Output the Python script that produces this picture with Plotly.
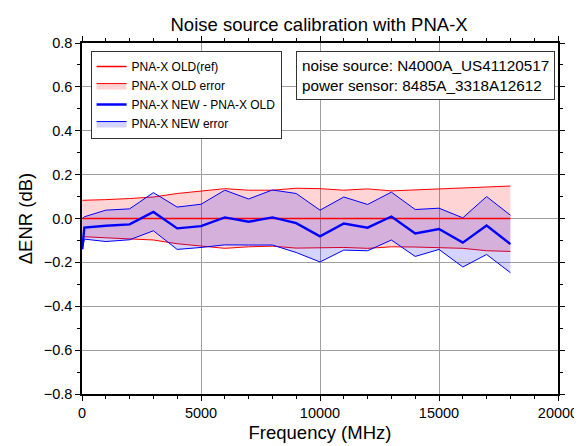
import plotly.graph_objects as go

freq = [10, 100, 1000, 2000, 3000, 4000, 5000, 6000, 7000, 8000, 9000,
        10000, 11000, 12000, 13000, 14000, 15000, 16000, 17000, 18000]

old_ref = [0.0] * 20
old_upper = [0.083, 0.083, 0.086, 0.091, 0.098, 0.114, 0.126, 0.136, 0.129, 0.129, 0.138,
             0.136, 0.129, 0.135, 0.126, 0.130, 0.135, 0.138, 0.145, 0.148]
old_lower = [-0.083, -0.083, -0.088, -0.092, -0.098, -0.115, -0.127, -0.136, -0.129, -0.126, -0.135,
             -0.135, -0.132, -0.136, -0.129, -0.130, -0.133, -0.136, -0.147, -0.150]

new_mean = [-0.140, -0.041, -0.033, -0.027, 0.030, -0.045, -0.035, 0.005, -0.015, 0.005, -0.021,
            -0.081, -0.023, -0.042, 0.009, -0.068, -0.048, -0.110, -0.032, -0.117]
new_upper = [0.000, 0.008, 0.038, 0.044, 0.118, 0.052, 0.065, 0.129, 0.089, 0.130, 0.114,
             0.038, 0.098, 0.064, 0.120, 0.041, 0.047, 0.003, 0.100, 0.015]
new_lower = [-0.140, -0.094, -0.105, -0.097, -0.056, -0.141, -0.132, -0.120, -0.121, -0.121, -0.155,
             -0.198, -0.144, -0.147, -0.098, -0.173, -0.141, -0.221, -0.164, -0.247]

legend_names = ["PNA-X OLD(ref)", "PNA-X OLD error", "PNA-X NEW - PNA-X OLD", "PNA-X NEW error"]

FONT = "Liberation Sans, Arial, sans-serif"
RED_FILL = "rgba(255,0,0,0.17)"
BLUE_FILL = "rgba(0,0,255,0.17)"

fig = go.Figure()

# OLD error band
fig.add_trace(go.Scatter(x=freq, y=old_lower, mode="lines", line=dict(color="red", width=1),
                         showlegend=False, hoverinfo="skip"))
fig.add_trace(go.Scatter(x=freq, y=old_upper, mode="lines", line=dict(color="red", width=1),
                         fill="tonexty", fillcolor=RED_FILL, name=legend_names[1], legendrank=2))
# NEW error band
fig.add_trace(go.Scatter(x=freq, y=new_lower, mode="lines", line=dict(color="blue", width=1),
                         showlegend=False, hoverinfo="skip"))
fig.add_trace(go.Scatter(x=freq, y=new_upper, mode="lines", line=dict(color="blue", width=1),
                         fill="tonexty", fillcolor=BLUE_FILL, name=legend_names[3], legendrank=4))
# lines
fig.add_trace(go.Scatter(x=freq, y=old_ref, mode="lines", line=dict(color="red", width=1.6),
                         name=legend_names[0], legendrank=1))
fig.add_trace(go.Scatter(x=freq, y=new_mean, mode="lines", line=dict(color="blue", width=2.4),
                         name=legend_names[2], legendrank=3))

axis_common = dict(
    showline=True, linecolor="black", linewidth=1.5, mirror="ticks",
    ticks="outside", ticklen=5, tickwidth=1, tickcolor="black",
    showgrid=True, gridcolor="#a0a0a0", gridwidth=1, zeroline=False,
    tickfont=dict(family=FONT, size=14.5, color="black"),
)

fig.update_xaxes(range=[0, 20000], dtick=5000, tick0=0, tickformat="d",
                 minor=dict(dtick=1000, ticks="outside", ticklen=3, tickcolor="black", showgrid=False),
                 title=dict(text="Frequency (MHz)", font=dict(family=FONT, size=18.5, color="black"),
                            standoff=6),
                 **axis_common)
fig.update_yaxes(range=[-0.8, 0.8], dtick=0.2, tick0=0, tickformat=".1f",
                 minor=dict(dtick=0.1, ticks="outside", ticklen=3, tickcolor="black", showgrid=False),
                 title=dict(text="ΔENR (dB)", font=dict(family=FONT, size=18.5, color="black"),
                            standoff=6),
                 **axis_common)

fig.update_layout(
    width=582, height=446,
    margin=dict(l=74, r=30, t=35, b=60),
    paper_bgcolor="white", plot_bgcolor="white",
    title=dict(text="Noise source calibration with PNA-X", x=0.5345, xanchor="center",
               y=0.963, yanchor="middle",
               font=dict(family=FONT, size=18.5, color="black")),
    legend=dict(x=0.018, y=0.977, xanchor="left", yanchor="top", traceorder="normal",
                bgcolor="white", bordercolor="#333333", borderwidth=1,
                font=dict(family=FONT, size=12, color="black"),
                tracegroupgap=0, itemwidth=30),
    annotations=[dict(
        text="noise source: N4000A_US41120517<br>power sensor: 8485A_3318A12612",
        xref="paper", yref="paper", x=0.9937, y=0.977, xanchor="right", yanchor="top",
        showarrow=False, align="left", bgcolor="white", bordercolor="#333333", borderwidth=1,
        borderpad=5, font=dict(family=FONT, size=15.3, color="black"))],
    showlegend=True,
)

fig.write_html("out.html")
